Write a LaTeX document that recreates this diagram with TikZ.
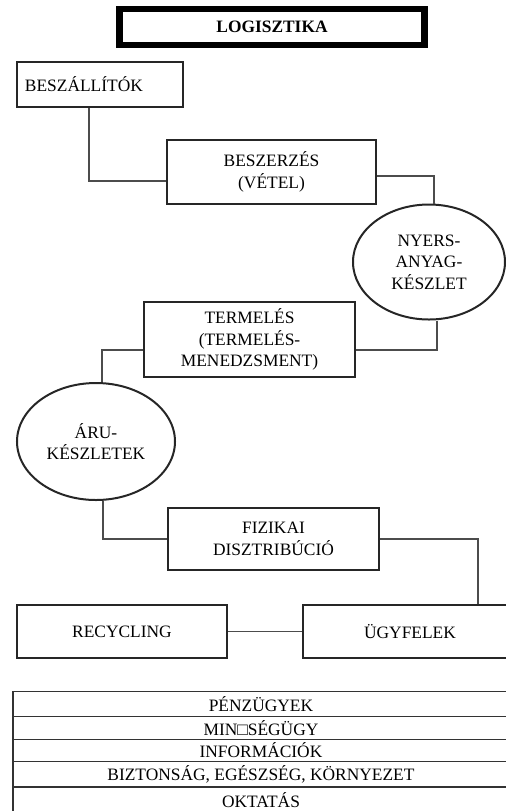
\documentclass[tikz,border=0pt]{standalone}
\usepackage{fontspec}
\setmainfont{Liberation Serif}
\usetikzlibrary{shapes.geometric}

\tikzset{
  doboz/.style={draw=black!85, line width=1pt, inner sep=0pt, align=center,
    font=\fontsize{8.7}{10.8}\selectfont},
  tojas/.style={doboz, ellipse},
  sor/.style={draw=black!80, line width=0.7pt, minimum width=248pt, inner sep=0pt,
    font=\fontsize{8.7}{10}\selectfont},
  vonal/.style={draw=black!70, line width=0.7pt}
}

\begin{document}
\begin{tikzpicture}[x=0.5pt,y=-0.5pt]
                \useasboundingbox (0,0) rectangle (505,811);

                \node[doboz, line width=3.2pt, draw=black, minimum width=152.5pt, minimum height=17.75pt,
                  font=\fontsize{8.7}{10}\selectfont\bfseries] (logisztika) at (272,27) {LOGISZTIKA};
                \node[doboz, minimum width=83pt, minimum height=22.5pt, text width=75pt, inner xsep=4pt,
                  align=left] (besz) at (100,84.5) {BESZÁLLÍTÓK};
                \node[doboz, minimum width=104.5pt, minimum height=32pt] (beszerzes) at (271.5,172) {BESZERZÉS\\(VÉTEL)};
                \node[tojas, minimum width=76pt, minimum height=57.5pt] (nyers) at (429,262) {NYERS-\\ANYAG-\\KÉSZLET};
                \node[doboz, minimum width=105.5pt, minimum height=37.5pt] (termeles) at (249.5,339.5) {TERMELÉS\\(TERMELÉS-\\MENEDZSMENT)};
                \node[tojas, minimum width=79pt, minimum height=58.5pt] (aru) at (96,441.5) {ÁRU-\\KÉSZLETEK};
                \node[doboz, minimum width=105.5pt, minimum height=31pt] (fizikai) at (273.5,539) {FIZIKAI\\DISZTRIBÚCIÓ};
                \node[doboz, minimum width=105pt, minimum height=26.5pt] (recycling) at (122,631.5) {RECYCLING};
                \node[doboz, minimum width=107pt, minimum height=26.5pt] (ugyfelek) at (410,631.5) {ÜGYFELEK};

                \node[sor, minimum height=12.5pt] (penz) at (261,704.2) {PÉNZÜGYEK};
                \node[sor, minimum height=11.3pt] (minoseg) at (261,728) {MIN□SÉGÜGY};
                \node[sor, minimum height=11.2pt] (info) at (261,750.5) {INFORMÁCIÓK};
                \node[sor, minimum height=12.8pt] (bizt) at (261,774.5) {BIZTONSÁG, EGÉSZSÉG, KÖRNYEZET};
                \node[sor, minimum height=13pt] (oktatas) at (261,800) {OKTATÁS};

                \draw[vonal] ([xshift=-5.5pt]besz.south) |- ([yshift=-4.5pt]beszerzes.west);
                \draw[vonal] ([yshift=-2pt]beszerzes.east) -| ([xshift=2.5pt]nyers.north);
                \draw[vonal] ([xshift=4pt]nyers.south) |- ([yshift=-5.25pt]termeles.east);
                \draw[vonal] ([yshift=-5.25pt]termeles.west) -| ([xshift=3pt]aru.north);
                \draw[vonal] ([xshift=3.5pt]aru.south) |- (fizikai.west);
                \draw[vonal] (fizikai.east) -| ([xshift=34pt]ugyfelek.north);
                \draw[vonal] (recycling) -- (ugyfelek);
            \end{tikzpicture}
\end{document}
